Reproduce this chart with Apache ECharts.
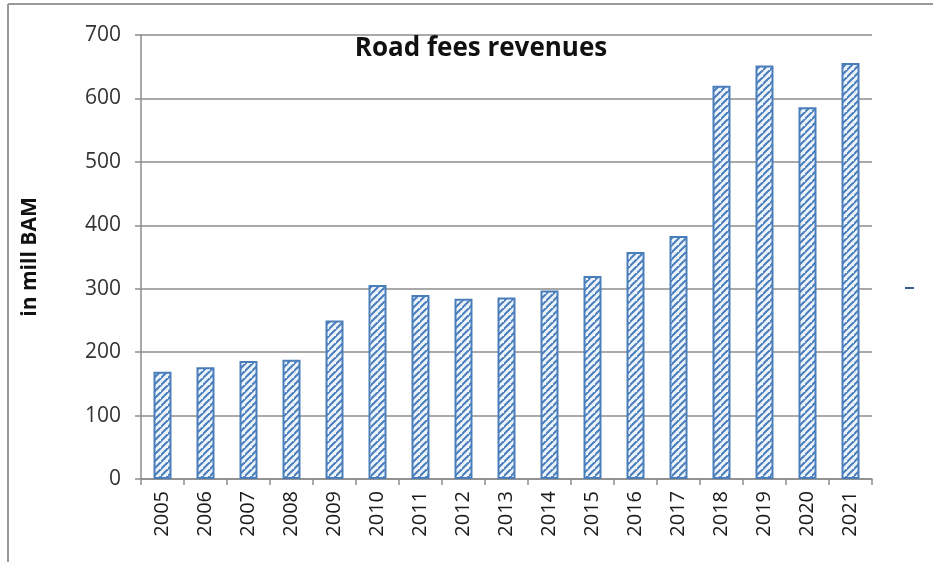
<!DOCTYPE html>
<html>
<head>
<meta charset="utf-8">
<script src="https://cdn.jsdelivr.net/npm/echarts@6/dist/echarts.min.js"></script>
<style>
  html, body { margin: 0; padding: 0; background: #fff; }
  #chart { width: 933px; height: 562px; }
</style>
</head>
<body>
<div id="chart"></div>
<script>
// Annual road fee revenues, in millions of BAM
const years = ['2005','2006','2007','2008','2009','2010','2011','2012','2013','2014','2015','2016','2017','2018','2019','2020','2021'];
const revenues = [169, 176, 186, 188, 250, 306, 290, 284, 286, 297, 320, 358, 383, 620, 652, 586, 656];
const yTicks = [0, 100, 200, 300, 400, 500, 600, 700];

// Diagonal hatch fill for the bars
function hatchPattern() {
  const c = document.createElement('canvas');
  const s = 7;
  c.width = s; c.height = s;
  const g = c.getContext('2d');
  g.fillStyle = '#eef4fc';
  g.fillRect(0, 0, s, s);
  g.strokeStyle = '#4a7ebb';
  g.lineWidth = 2;
  g.beginPath();
  g.moveTo(-1, s + 1); g.lineTo(s + 1, -1);
  g.moveTo(-1 - s, s + 1); g.lineTo(1, -1);
  g.moveTo(s - 1, 2 * s + 1); g.lineTo(2 * s + 1, s - 1);
  g.stroke();
  return c;
}

const chart = echarts.init(document.getElementById('chart'), null, { renderer: 'canvas' });
const font = 'Open Sans, Liberation Sans, sans-serif';

chart.setOption({
  animation: false,
  backgroundColor: '#fff',
  title: {
    text: 'Road fees revenues',
    left: 476, top: 31, textAlign: 'center',
    textStyle: { fontFamily: font, fontSize: 26, fontWeight: 'bold', color: '#111' }
  },
  grid: { left: 141, right: 61, top: 35, bottom: 83 },
  xAxis: {
    type: 'category',
    data: years,
    axisLine: { lineStyle: { color: '#8c8c8c', width: 1.5 } },
    axisTick: { show: true, alignWithLabel: false, length: 6, lineStyle: { color: '#8c8c8c', width: 1.5 } },
    axisLabel: { rotate: 90, margin: 12, fontFamily: font, fontSize: 20, color: '#1a1a1a' }
  },
  yAxis: {
    type: 'value',
    min: 0, max: 700, interval: 100,
    name: 'in mill BAM',
    nameLocation: 'middle',
    nameGap: 100,
    nameTextStyle: { fontFamily: font, fontSize: 21, fontWeight: 'bold', color: '#111' },
    axisLine: { show: true, lineStyle: { color: '#8c8c8c', width: 1.5 } },
    axisTick: { show: true, length: 6, lineStyle: { color: '#8c8c8c', width: 1.5 } },
    axisLabel: {
      margin: 20, fontFamily: font, fontSize: 21, color: '#333',
      formatter: v => yTicks.includes(v) ? String(v) : ''
    },
    splitLine: { lineStyle: { color: '#8c8c8c', width: 1.5 } }
  },
  series: [{
    type: 'bar',
    data: revenues,
    barWidth: 18,
    itemStyle: {
      color: { image: hatchPattern(), repeat: 'repeat' },
      borderColor: '#4a7ebb',
      borderWidth: 2
    }
  }],
  graphic: [
    // outer frame edges
    { type: 'line', shape: { x1: 8, y1: 4, x2: 933, y2: 4 }, style: { stroke: '#9a9a9a', lineWidth: 2 } },
    { type: 'line', shape: { x1: 8, y1: 4, x2: 8, y2: 562 }, style: { stroke: '#9a9a9a', lineWidth: 2 } },
    // small legend marker at the right
    { type: 'line', shape: { x1: 905, y1: 288, x2: 914, y2: 288 }, style: { stroke: '#3b5d8a', lineWidth: 2 } }
  ]
});
</script>
</body>
</html>
